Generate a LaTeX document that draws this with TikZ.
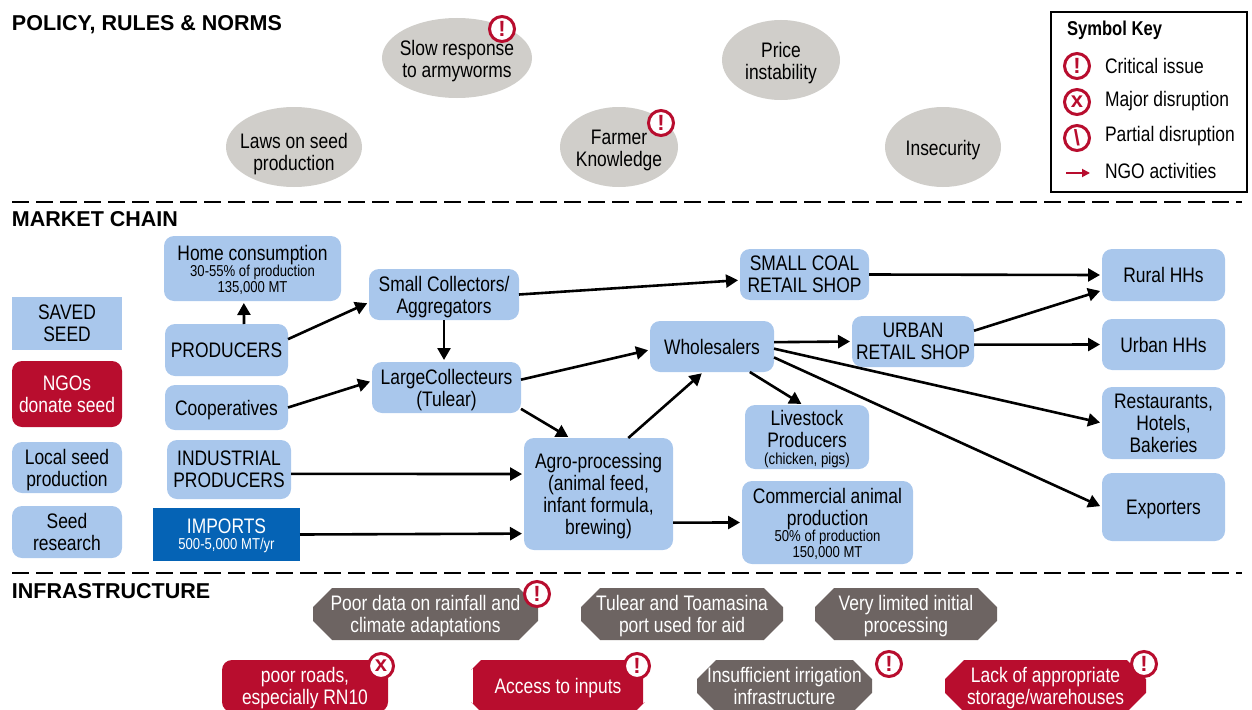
\documentclass[tikz,border=0pt]{standalone}
\usepackage{fontspec}
\usepackage{xcolor}
\setmainfont[FakeStretch=0.83]{Liberation Sans}
\newfontfamily\headfont{Liberation Sans}
\usetikzlibrary{shapes.geometric, shapes.misc, arrows.meta}
\definecolor{chainblue}{HTML}{A9C7EC}
\definecolor{importblue}{HTML}{0563B5}
\definecolor{ngored}{HTML}{B80D2E}
\definecolor{infragray}{HTML}{6D6462}
\definecolor{issuegray}{HTML}{D0CECA}
\newcommand{\smalltext}{\fontsize{15.8}{15}\selectfont}
\begin{document}
\begin{tikzpicture}[x=1pt, y=-1pt, every node/.style={font=\fontsize{21}{22}\selectfont, align=center, inner sep=0pt, outer sep=0pt}]
    % Define styles
    \tikzstyle{chainbox} = [rectangle, rounded corners=10pt, fill=chainblue, text=black, text depth=-0.5pt]
    \tikzstyle{plainbox} = [rectangle, fill=chainblue, text=black, text depth=-0.5pt]
    \tikzstyle{ngobox} = [rectangle, rounded corners=10pt, fill=ngored, text=white, text depth=1pt]
    \tikzstyle{importbox} = [rectangle, fill=importblue, text=white, text depth=1.5pt]
    \tikzstyle{issuebox} = [ellipse, fill=issuegray]
    \tikzstyle{issuetext} = [text=black, align=center, yshift=-3pt]
    \tikzstyle{grayport} = [chamfered rectangle, chamfered rectangle xsep=10pt, chamfered rectangle ysep=10pt, inner xsep=-13pt, inner ysep=-10pt, fill=infragray, text=white, text depth=1pt]
    \tikzstyle{redport} = [chamfered rectangle, chamfered rectangle xsep=10pt, chamfered rectangle ysep=10pt, inner xsep=-13pt, inner ysep=-10pt, fill=ngored, text=white, text depth=1pt]
    \tikzstyle{badge} = [circle, draw=ngored, line width=3pt, fill=white, minimum size=25pt, text=ngored, font=\headfont\bfseries\fontsize{22}{22}\selectfont]
    \tikzstyle{heading} = [anchor=west, font=\headfont\bfseries\fontsize{21.5}{22}\selectfont]
    \tikzstyle{keytext} = [anchor=west, text=black]
    \tikzstyle{flow} = [line width=2.6pt, -{Triangle[length=12pt, width=13pt]}, shorten >=2pt]
    \tikzstyle{rulerline} = [line width=2.4pt, dash pattern=on 17pt off 7pt]

    \useasboundingbox (0,0) rectangle (1252,709);

    % Section headings
    \node (policy) [heading] at (12,24.5) {POLICY, RULES \& NORMS};
    \node (market) [heading] at (12,219) {MARKET CHAIN};
    \node (infra) [heading] at (12,591) {INFRASTRUCTURE};

    % Section rules
    \coordinate (ruleAl) at (12,202);
    \coordinate (ruleAr) at (1242,202);
    \coordinate (ruleBl) at (12,573);
    \coordinate (ruleBr) at (1242,573);
    \draw [rulerline] (ruleAl) -- (ruleAr);
    \draw [rulerline] (ruleBl) -- (ruleBr);

    % Policy issues
    \node (slow) [issuebox, minimum width=150pt, minimum height=80pt, label={[issuetext]center:{Slow response\\to armyworms}}] at (457,58) {};
    \node (price) [issuebox, minimum width=118pt, minimum height=80pt, label={[issuetext]center:{Price\\instability}}] at (781,60) {};
    \node (laws) [issuebox, minimum width=136pt, minimum height=80pt, label={[issuetext, yshift=-4pt]center:{Laws on seed\\production}}] at (294,147) {};
    \node (farmer) [issuebox, minimum width=118pt, minimum height=80pt, label={[issuetext]center:{Farmer\\Knowledge}}] at (619,147) {};
    \node (insecurity) [issuebox, minimum width=116pt, minimum height=80pt, label={[issuetext]center:{Insecurity}}] at (943,147) {};
    \node (slowflag) [badge] at (502,29) {!};
    \node (farmerflag) [badge] at (661,123) {!};

    % Symbol key
    \node (keyframe) [rectangle, draw=black, line width=2pt, minimum width=196pt, minimum height=180pt] at (1149,102) {};
    \node (keytitle) [anchor=west, font=\bfseries\fontsize{20}{20}\selectfont] at (1067,30) {Symbol Key};
    \node (keycritical) [badge] at (1077,66) {!};
    \node (keymajor) [badge] at (1077,102) {x};
    \node (keypartial) [badge] at (1077,138) {\textbackslash};
    \node (criticaltext) [keytext] at (1105,66) {Critical issue};
    \node (majortext) [keytext] at (1105,101) {Major disruption};
    \node (partialtext) [keytext] at (1105,136) {Partial disruption};
    \node (ngotext) [keytext] at (1105,171) {NGO activities};
    \coordinate (keyarrowl) at (1066,173);
    \coordinate (keyarrowr) at (1090,173);
    \draw [ngored, line width=1.8pt, -{Triangle[length=8pt, width=8pt]}] (keyarrowl) -- (keyarrowr);

    % Seed sources
    \node (saved) [plainbox, minimum width=110pt, minimum height=53pt] at (67,323.5) {SAVED\\SEED};
    \node (ngos) [ngobox, minimum width=110pt, minimum height=66pt, text depth=-2pt] at (67,394) {NGOs\\donate seed};
    \node (localseed) [chainbox, minimum width=110pt, minimum height=51pt] at (67,467.5) {Local seed\\production};
    \node (research) [chainbox, minimum width=110pt, minimum height=52pt] at (67,532) {Seed\\research};

    % Producers
    \node (home) [chainbox, minimum width=177pt, minimum height=65pt] at (252.5,268.5) {Home consumption\\[-6pt]\smalltext 30-55\% of production\\[-6pt]\smalltext 135,000 MT};
    \node (producers) [chainbox, minimum width=123pt, minimum height=52pt] at (226.5,350) {PRODUCERS};
    \node (coop) [chainbox, minimum width=123pt, minimum height=45pt] at (226.5,407.5) {Cooperatives};
    \node (industrial) [chainbox, minimum width=124pt, minimum height=59pt] at (229,469.5) {INDUSTRIAL\\PRODUCERS};
    \node (imports) [importbox, minimum width=147pt, minimum height=53pt] at (226.5,534.5) {IMPORTS\\[-6pt]\smalltext 500-5,000 MT/yr};

    % Middle of the chain
    \node (small) [chainbox, minimum width=150pt, minimum height=51pt] at (444,294.5) {Small Collectors/\\Aggregators};
    \node (large) [chainbox, minimum width=149pt, minimum height=51pt] at (446.5,387.5) {LargeCollecteurs\\(Tulear)};
    \node (agro) [chainbox, minimum width=149pt, minimum height=112pt, text depth=-3pt] at (598.5,494) {Agro-processing\\(animal feed,\\infant formula,\\brewing)};
    \node (whole) [chainbox, minimum width=124pt, minimum height=51pt] at (712,346.5) {Wholesalers};
    \node (coal) [chainbox, minimum width=129pt, minimum height=51pt, text depth=-2pt] at (804.5,274.5) {SMALL COAL\\RETAIL SHOP};
    \node (urban) [chainbox, minimum width=122pt, minimum height=51pt] at (913,341.5) {URBAN\\RETAIL SHOP};
    \node (livestock) [chainbox, minimum width=124pt, minimum height=64pt] at (807,437) {Livestock\\Producers\\[-5pt]\fontsize{16}{14}\selectfont (chicken, pigs)};
    \node (commercial) [chainbox, minimum width=171pt, minimum height=83pt] at (827.5,522.5) {Commercial animal\\production\\[-6pt]\smalltext 50\% of production\\[-6pt]\smalltext 150,000 MT};

    % Consumers
    \node (rural) [chainbox, minimum width=123pt, minimum height=52pt] at (1163.5,275) {Rural HHs};
    \node (urbanhh) [chainbox, minimum width=123pt, minimum height=51pt] at (1163.5,344.5) {Urban HHs};
    \node (restaurants) [chainbox, minimum width=123pt, minimum height=72pt, text depth=-3pt] at (1163.5,423) {Restaurants,\\Hotels,\\Bakeries};
    \node (exporters) [chainbox, minimum width=123pt, minimum height=68pt] at (1163.5,507) {Exporters};

    % Chain connections
    \draw [flow] (producers.56) -- (home.255);
    \draw [flow] (producers.10) -- (small.186);
    \draw [flow] (coop.east) -- (large.175);
    \draw [flow] (small.south) -- (small.south |- large.north);
    \draw [flow] (small.east) -- (coal.185);
    \draw [flow] (coal.east) -- (rural.west);
    \draw [flow] (large.6) -- (whole.183);
    \draw [flow] (large.-16) -- (agro.117);
    \draw [flow] (agro.62) -- (whole.251);
    \draw [flow] (industrial.-4) -- (agro.165);
    \draw [flow] (imports.east) -- (agro.208);
    \draw [flow] (agro.-21) -- (commercial.west);
    \draw [flow] (whole.4) -- (urban.west);
    \draw [flow] (whole.-34) -- (livestock.97);
    \draw [flow] (whole.-2) -- (restaurants.west);
    \draw [flow] (whole.-10) -- (exporters.west);
    \draw [flow] (urban.10) -- (rural.194);
    \draw [flow] (urban.-3) -- (urbanhh.west);

    % Infrastructure
    \node (rainfall) [grayport, minimum width=225pt, minimum height=52pt] at (425.5,614) {Poor data on rainfall and\\climate adaptations};
    \node (port) [grayport, minimum width=202pt, minimum height=52pt] at (682,614) {Tulear and Toamasina\\port used for aid};
    \node (limited) [grayport, minimum width=182pt, minimum height=52pt] at (906,614) {Very limited initial\\processing};
    \node (roads) [ngobox, minimum width=166pt, minimum height=52pt] at (305,686) {poor roads,\\especially RN10};
    \node (inputs) [redport, minimum width=170pt, minimum height=52pt] at (558,686) {Access to inputs};
    \node (irrigation) [grayport, minimum width=175pt, minimum height=52pt] at (784.5,686) {Insufficient irrigation\\infrastructure};
    \node (storage) [redport, minimum width=201pt, minimum height=52pt] at (1045.5,686) {Lack of appropriate\\storage/warehouses};
    \node (rainfallflag) [badge] at (537,594) {!};
    \node (roadsflag) [badge] at (381,666) {x};
    \node (inputsflag) [badge] at (637,666) {!};
    \node (irrigationflag) [badge] at (889,664) {!};
    \node (storageflag) [badge] at (1144,664) {!};
\end{tikzpicture}
\end{document}
